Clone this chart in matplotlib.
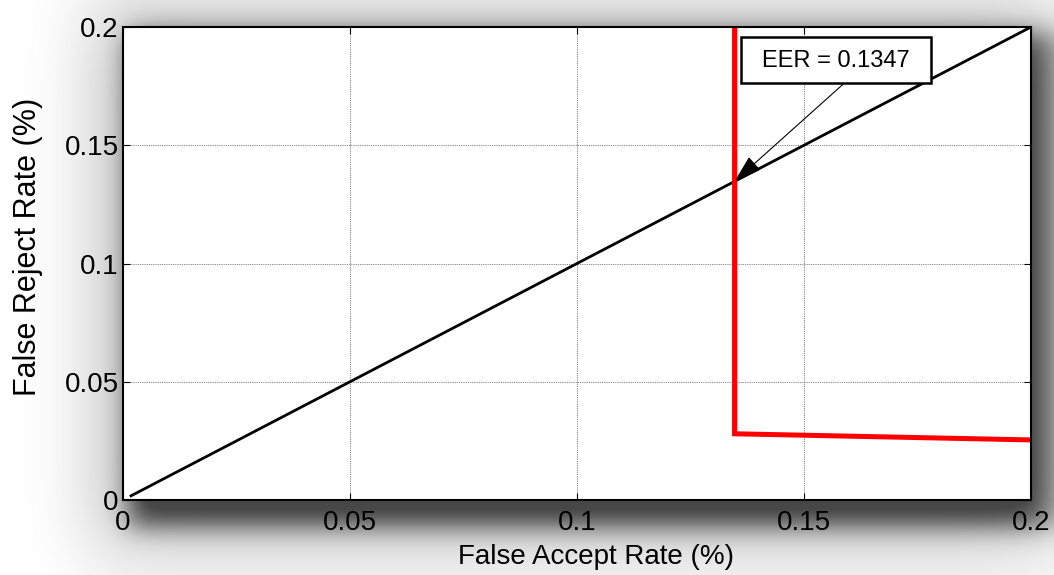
import numpy as np
import matplotlib
matplotlib.use("Agg")
import matplotlib.pyplot as plt
from matplotlib.patches import Rectangle

plt.rcParams["font.family"] = ["Liberation Sans", "DejaVu Sans"]

# Equal-error reference line and the measured FAR/FRR trade-off curve
far_diag = [0.0015, 0.2]
frr_diag = [0.0015, 0.2]
far_curve = [0.1347, 0.1347, 0.2]
frr_curve = [0.2, 0.028, 0.0254]
eer = 0.1347
ticks = [0, 0.05, 0.1, 0.15, 0.2]
tick_labels = ["0", "0.05", "0.1", "0.15", "0.2"]

W, H, DPI = 1054, 575, 100
fig = plt.figure(figsize=(W / DPI, H / DPI), dpi=DPI)
fig.patch.set_facecolor("white")

# axes frame in pixels (left, right, top, bottom)
L, R, T, B = 123, 1031, 27, 500


def gauss_matrix(n, sigma):
    idx = np.arange(n)
    k = np.exp(-((idx[:, None] - idx[None, :]) ** 2) / (2.0 * sigma ** 2))
    return k / k.sum(axis=1, keepdims=True)


def soft_rect(x0, x1, y0, y1, sigma):
    m = np.zeros((H, W))
    m[max(y0, 0):min(y1, H), max(x0, 0):min(x1, W)] = 1.0
    return gauss_matrix(H, sigma) @ m @ gauss_matrix(W, sigma).T


# drop shadow behind the plot frame
shadow = 0.60 * soft_rect(L + 6, R + 14, T + 6, B + 26, 13)
shadow += 0.20 * soft_rect(L - 35, R + 10, T - 8, B + 45, 32)
shadow = np.clip(shadow, 0, 0.72)
bg = fig.add_axes([0, 0, 1, 1], zorder=0)
bg.imshow(1.0 - shadow, cmap="gray", vmin=0, vmax=1, extent=[0, W, H, 0],
          aspect="auto", interpolation="bilinear")
bg.set_xlim(0, W)
bg.set_ylim(H, 0)
bg.axis("off")

ax = fig.add_axes([L / W, (H - B) / H, (R - L) / W, (B - T) / H], zorder=1)
ax.set_facecolor("white")

ax.plot(far_diag, frr_diag, color="black", lw=2.0, solid_capstyle="butt")
ax.plot(far_curve, frr_curve, color=(1, 0, 0), lw=3.6,
        solid_capstyle="butt", solid_joinstyle="miter")

ax.set_xlim(0, 0.2)
ax.set_ylim(0, 0.2)
ax.set_xticks(ticks)
ax.set_xticklabels(tick_labels)
ax.set_yticks(ticks)
ax.set_yticklabels(tick_labels)
ax.tick_params(direction="in", length=5, width=0.8, top=True, right=True,
               labelsize=20, colors="black")
ax.tick_params(axis="x", pad=7)
ax.tick_params(axis="y", pad=3)
ax.grid(True, linestyle=(0, (1, 1.2)), color="0.35", lw=0.6)
for sp in ax.spines.values():
    sp.set_linewidth(1.5)
    sp.set_color("black")

ax.set_xlabel("False Accept Rate (%)", fontsize=20)
ax.set_ylabel("False Reject Rate (%)", fontsize=22)
ax.xaxis.set_label_coords(0.521, -0.092)
ax.yaxis.set_label_coords(-0.088, 0.535)

# annotation box with arrow to the equal-error point
bx0, bx1, by0, by1 = 0.1361, 0.1780, 0.1763, 0.1958
ax.add_patch(Rectangle((bx0, by0), bx1 - bx0, by1 - by0, facecolor="white",
                       edgecolor="black", lw=1.8, zorder=5))
ax.text((bx0 + bx1) / 2, (by0 + by1) / 2 - 0.0003, f"EER = {eer}", fontsize=17,
        ha="center", va="center", zorder=6)
ax.annotate("", xy=(eer, eer), xytext=(0.1586, by0 - 0.0005),
            arrowprops=dict(arrowstyle="-|>,head_length=0.8,head_width=0.25",
                            color="black", lw=0.8, mutation_scale=22,
                            shrinkA=0, shrinkB=0),
            zorder=6)

fig.savefig("out.png", dpi=DPI, facecolor="white")
